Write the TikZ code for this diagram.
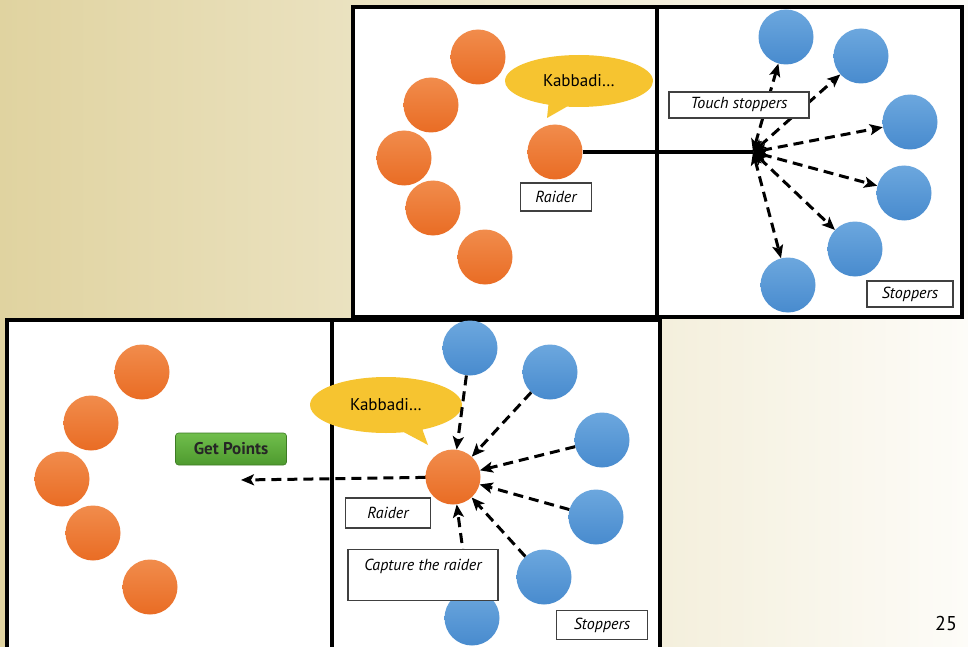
\documentclass[tikz,border=0pt]{standalone}
\usepackage{fontspec}
\setmainfont{PT Sans}
\usetikzlibrary{arrows.meta, shapes.callouts}

\definecolor{sandleft}{RGB}{224,211,160}
\definecolor{sandright}{RGB}{253,252,248}
\definecolor{orangetop}{RGB}{241,140,76}
\definecolor{orangebot}{RGB}{233,108,36}
\definecolor{bluetop}{RGB}{108,167,222}
\definecolor{bluebot}{RGB}{72,139,206}
\definecolor{bubble}{RGB}{246,196,48}
\definecolor{greentop}{RGB}{112,190,76}
\definecolor{greenbot}{RGB}{78,154,46}

\begin{document}
\begin{tikzpicture}[x=1pt, y=-1pt]

\tikzset{raider/.style = {shape=circle, minimum size=55pt, inner sep=0pt, top color=orangetop, bottom color=orangebot}}
\tikzset{stopper/.style = {shape=circle, minimum size=55pt, inner sep=0pt, top color=bluetop, bottom color=bluebot}}
\tikzset{tag/.style = {draw=black!75, fill=white, line width=1.2pt, inner sep=0pt, font=\itshape\fontsize{16}{18}\selectfont}}
\tikzset{court/.style = {draw=black, fill=white, line width=3.5pt}}
\tikzset{speech/.style = {ellipse callout, fill=bubble, inner sep=0pt, font=\fontsize{17}{20}\selectfont}}
\tikzset{edge/.style = {->, >={Stealth[length=13pt, width=11pt, inset=3pt]}, line width=3pt, dash pattern=on 10pt off 6pt}}

\useasboundingbox (0,0) rectangle (968,647);
\shade[left color=sandleft, right color=sandright] (0,0) rectangle (968,647);

%courts
\draw[court] (353,7) rectangle (962,317);
\draw[court] (657,7) -- (657,317);
\draw[court] (7,320) rectangle (660,665);
\draw[court] (332,320) -- (332,665);

%top: raid
\node[raider] (a1) at (478,57) {};
\node[raider] (a2) at (431,105) {};
\node[raider] (a3) at (404,158) {};
\node[raider] (a4) at (433,208) {};
\node[raider] (a5) at (485,257) {};
\node[raider] (ra) at (555,152) {};
\coordinate (tipa) at (547,118);
\node[speech, minimum width=148pt, minimum height=52pt, callout absolute pointer={(tipa)}] (kaba) at (579,81) {Kabbadi…};
\node[tag, minimum width=71pt, minimum height=28pt] (raidera) at (556,197) {Raider};

\node[stopper] (s1) at (786,37) {};
\node[stopper] (s2) at (861,56) {};
\node[stopper] (s3) at (910,122) {};
\node[stopper] (s4) at (904,193) {};
\node[stopper] (s5) at (855,249) {};
\node[stopper] (s6) at (788,285) {};

\coordinate (hub) at (753,152);
\draw[line width=3.5pt] (ra) -- (hub);
\foreach \s in {1,...,6}
  \draw[edge, <->] (hub) -- (s\s);
\node[tag, minimum width=140pt, minimum height=26pt] (touch) at (739,105) {Touch stoppers};
\node[tag, minimum width=86pt, minimum height=26pt] (stoppersa) at (910,294) {Stoppers};

%bottom: capture
\node[raider] (b1) at (142,372) {};
\node[raider] (b2) at (91,423) {};
\node[raider] (b3) at (62,479) {};
\node[raider] (b4) at (93,533) {};
\node[raider] (b5) at (150,587) {};
\node[raider] (rb) at (453,477) {};

\node[stopper] (t1) at (470,348) {};
\node[stopper] (t2) at (550,372) {};
\node[stopper] (t3) at (602,440) {};
\node[stopper] (t4) at (596,517) {};
\node[stopper] (t5) at (544,577) {};
\node[stopper] (t6) at (472,618) {};

\coordinate (tipb) at (428,445);
\node[speech, minimum width=152pt, minimum height=56pt, callout absolute pointer={(tipb)}] (kabb) at (386,405) {Kabbadi…};

\foreach \t in {1,...,6}
  \draw[edge] (t\t) -- (rb);
\coordinate (gain) at (241,480);
\draw[edge] (rb) -- (gain);

\node[rounded corners=3pt, top color=greentop, bottom color=greenbot, draw=greenbot!80!black, line width=0.6pt,
  minimum width=111pt, minimum height=32pt, text=black!85, font=\bfseries\fontsize{17}{20}\selectfont] (points) at (231,449) {Get Points};
\node[tag, minimum width=85pt, minimum height=30pt] (raiderb) at (388,513) {Raider};
\node[tag, minimum width=150pt, minimum height=51pt] (capture) at (423,575) {};
\node[font=\itshape\fontsize{16}{18}\selectfont] (capturetext) at (423,566) {Capture the raider};
\node[tag, minimum width=91pt, minimum height=29pt] (stoppersb) at (602,625) {Stoppers};

\node[font=\fontsize{20}{24}\selectfont] (page) at (946,623) {25};

\end{tikzpicture}
\end{document}
